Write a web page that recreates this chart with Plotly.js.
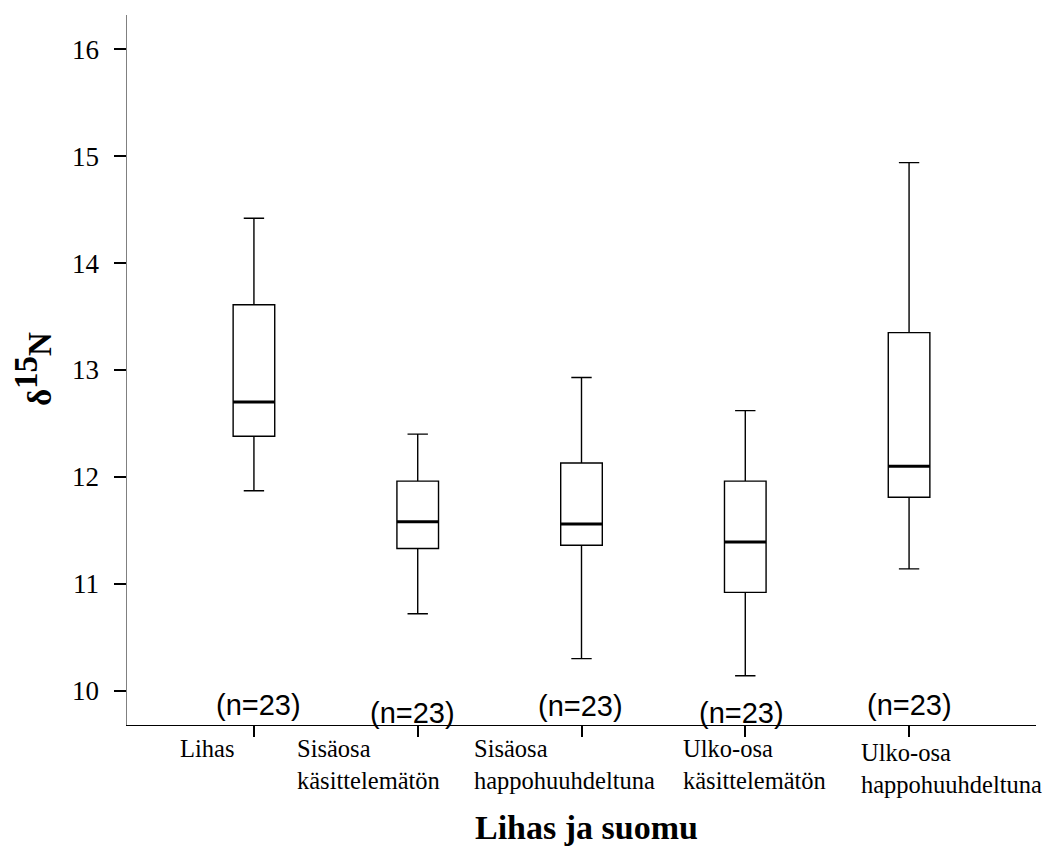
<!DOCTYPE html>
<html>
<head>
<meta charset="utf-8">
<script src="https://cdn.plot.ly/plotly-3.0.1.min.js"></script>
<style>
  html, body { margin: 0; padding: 0; background: #fff; }
  #chart { width: 1045px; height: 849px; }
</style>
</head>
<body>
<div id="chart"></div>
<script>
// δ15N by tissue type: muscle and scale (inner / outer part, untreated / acid-rinsed)
const categories = [
  'Lihas',
  'Sisäosa<br>käsittelemätön',
  'Sisäosa<br>happohuuhdeltuna',
  'Ulko-osa<br>käsittelemätön',
  'Ulko-osa<br>happohuuhdeltuna'
];
const lowerWhisker = [11.87, 10.72, 10.30, 10.14, 11.14];
const q1Values     = [12.38, 11.33, 11.36, 10.92, 11.81];
const medianValues = [12.70, 11.58, 11.56, 11.39, 12.10];
const q3Values     = [13.61, 11.96, 12.13, 11.96, 13.35];
const upperWhisker = [14.42, 12.40, 12.93, 12.62, 14.94];
const sampleCounts = [23, 23, 23, 23, 23];
const yTickValues  = [10, 11, 12, 13, 14, 15, 16];

// Layout settings
const serif = 'Liberation Serif, Times New Roman, serif';
const sans = 'Liberation Sans, Arial, sans-serif';
const boxWidth = 0.254;
const positions = categories.map((_, i) => i);
// pixel nudges for the category captions and the count labels
const captionShift = [
  { dx: -76, dy: -8 },
  { dx: -123, dy: -8 },
  { dx: -110, dy: -8 },
  { dx: -64, dy: -8 },
  { dx: -50, dy: -12 }
];
const countShift = [
  { dx: 5, dy: 20 },
  { dx: -5, dy: 12 },
  { dx: -1, dy: 19 },
  { dx: -4, dy: 12 },
  { dx: 0, dy: 20 }
];

const boxTrace = {
  type: 'box',
  x: positions,
  q1: q1Values,
  median: medianValues,
  q3: q3Values,
  lowerfence: lowerWhisker,
  upperfence: upperWhisker,
  width: boxWidth,
  whiskerwidth: 0.49,
  fillcolor: '#ffffff',
  line: { color: '#000000', width: 1.4 },
  boxpoints: false,
  hoverinfo: 'skip',
  showlegend: false
};

// heavier median bars drawn over each box
const medX = [], medY = [];
positions.forEach((p, i) => {
  medX.push(p - boxWidth / 2, p + boxWidth / 2, null);
  medY.push(medianValues[i], medianValues[i], null);
});
const medianTrace = {
  type: 'scatter',
  mode: 'lines',
  x: medX,
  y: medY,
  line: { color: '#000000', width: 3 },
  hoverinfo: 'skip',
  showlegend: false
};

const annotations = [];
categories.forEach((label, i) => {
  annotations.push({
    text: label,
    xref: 'x', x: positions[i], xanchor: 'left', xshift: captionShift[i].dx,
    yref: 'paper', y: 0, yanchor: 'top', yshift: captionShift[i].dy,
    align: 'left', showarrow: false,
    font: { family: serif, size: 24.5, color: '#000000' }
  });
  annotations.push({
    text: '(n=' + sampleCounts[i] + ')',
    xref: 'x', x: positions[i], xanchor: 'center', xshift: countShift[i].dx,
    yref: 'paper', y: 0, yanchor: 'middle', yshift: countShift[i].dy,
    showarrow: false,
    font: { family: sans, size: 29, color: '#000000' }
  });
});
annotations.push({
  text: '<b>Lihas ja suomu</b>',
  xref: 'paper', x: 0.5053, xanchor: 'center',
  yref: 'paper', y: 0, yanchor: 'top', yshift: -82,
  showarrow: false,
  font: { family: serif, size: 34, color: '#000000' }
});
annotations.push({
  text: '<b>δ<sup><span style="font-size:33px">15</span></sup>N</b>',
  textangle: -90,
  xref: 'paper', x: -0.104, xanchor: 'center',
  yref: 'paper', y: 0.502, yanchor: 'middle',
  showarrow: false,
  font: { family: serif, size: 33, color: '#000000' }
});

const layout = {
  width: 1045,
  height: 849,
  margin: { l: 127, r: 9, t: 15, b: 124, pad: 0 },
  paper_bgcolor: '#ffffff',
  plot_bgcolor: '#ffffff',
  showlegend: false,
  xaxis: {
    range: [-0.775, 4.775],
    tickvals: positions,
    showticklabels: false,
    ticks: 'outside', ticklen: 11, tickwidth: 2, tickcolor: '#000000',
    showline: true, linecolor: '#000000', linewidth: 1.3,
    showgrid: false, zeroline: false, fixedrange: true
  },
  yaxis: {
    range: [9.679, 16.321],
    tickvals: yTickValues,
    ticktext: yTickValues.map(String),
    ticks: 'outside', ticklen: 12, tickwidth: 2, tickcolor: '#000000',
    ticklabelstandoff: 9,
    tickfont: { family: serif, size: 27, color: '#000000' },
    showline: true, linecolor: '#808080', linewidth: 1.5,
    showgrid: false, zeroline: false, fixedrange: true
  },
  annotations: annotations
};

Plotly.newPlot('chart', [boxTrace, medianTrace], layout, { displayModeBar: false, staticPlot: true });
</script>
</body>
</html>
